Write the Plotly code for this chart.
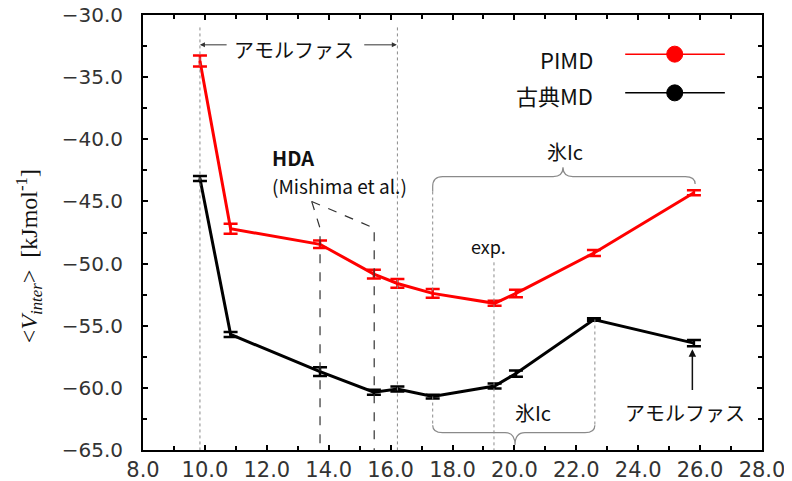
import plotly.graph_objects as go

# ---- data ----
x_vals = [9.84, 10.83, 13.72, 15.46, 16.22, 17.36, 19.36, 20.05, 22.57, 25.8]
pimd = [-33.7, -47.2, -48.45, -50.85, -51.6, -52.4, -53.2, -52.4, -49.15, -44.3]
pimd_err = [0.45, 0.4, 0.3, 0.35, 0.35, 0.35, 0.2, 0.3, 0.25, 0.2]
classical = [-43.15, -55.7, -58.7, -60.35, -60.1, -60.7, -59.85, -58.85, -54.5, -56.4]
classical_err = [0.2, 0.2, 0.35, 0.2, 0.2, 0.15, 0.2, 0.25, 0.1, 0.25]
series_names = ["PIMD", "古典MD"]

x_ticks = [8, 10, 12, 14, 16, 18, 20, 22, 24, 26, 28]
y_ticks = [-65, -60, -55, -50, -45, -40, -35, -30]

JP = "Noto Sans CJK JP"

fig = go.Figure()
fig.add_trace(go.Scatter(
    x=x_vals, y=pimd, mode="lines", name=series_names[0],
    line=dict(color="#ff0000", width=3),
    error_y=dict(type="data", array=pimd_err, color="#ff0000", thickness=2.5, width=7),
    showlegend=False))
fig.add_trace(go.Scatter(
    x=x_vals, y=classical, mode="lines", name=series_names[1],
    line=dict(color="#000000", width=3),
    error_y=dict(type="data", array=classical_err, color="#000000", thickness=2.5, width=7),
    showlegend=False))

shapes = []
gray = "#8a8a8a"
# dotted vertical guides
for xv, y0, y1 in [(9.84, -31.0, -65), (16.22, -31.0, -65), (19.34, -49.9, -65),
                   (17.36, -44.2, -52.4), (17.36, -60.7, -63.0), (22.6, -54.5, -63.0)]:
    shapes.append(dict(type="line", x0=xv, x1=xv, y0=y0, y1=y1, xref="x", yref="y",
                       line=dict(color=gray, width=1, dash="dot")))
# HDA dashed lines
shapes.append(dict(type="path", xref="x", yref="y",
                   path="M 13.45,-45.0 L 13.72,-47.15 L 13.72,-65",
                   line=dict(color="#333", width=1.2, dash="dash")))
shapes.append(dict(type="path", xref="x", yref="y",
                   path="M 13.45,-45.0 L 15.47,-47.15 L 15.47,-65",
                   line=dict(color="#333", width=1.2, dash="dash")))
# top brace
shapes.append(dict(type="path", xref="x", yref="y",
                   path="M 17.36,-44.2 L 17.36,-43.8 Q 17.36,-43.0 17.68,-43.0 L 21.25,-43.0 "
                        "Q 21.57,-43.0 21.57,-42.25 Q 21.57,-43.0 21.89,-43.0 L 25.52,-43.0 "
                        "Q 25.84,-43.0 25.84,-43.6",
                   line=dict(color=gray, width=1.2)))
# bottom brace
shapes.append(dict(type="path", xref="x", yref="y",
                   path="M 17.36,-63.0 Q 17.36,-63.6 17.68,-63.6 L 19.7,-63.6 "
                        "Q 20.02,-63.6 20.02,-64.6 Q 20.02,-63.6 20.34,-63.6 L 22.28,-63.6 "
                        "Q 22.6,-63.6 22.6,-63.0",
                   line=dict(color=gray, width=1.2)))

# legend (drawn manually)
leg = [(0.910, "#ff0000", 0.899, series_names[0]), (0.821, "#000000", 0.817, series_names[1])]
ann = []
for ly, col, ty, name in leg:
    shapes.append(dict(type="line", xref="paper", yref="paper", x0=0.779, x1=0.940, y0=ly, y1=ly,
                       line=dict(color=col, width=1.5)))
    shapes.append(dict(type="circle", xref="paper", yref="paper", xsizemode="pixel",
                       ysizemode="pixel", xanchor=0.859, yanchor=ly, x0=-8, x1=8, y0=-8, y1=8,
                       fillcolor=col, line=dict(color=col, width=1)))
    ann.append(dict(x=0.730, y=ty, xref="paper", yref="paper", text=name, showarrow=False,
                    xanchor="right", yanchor="middle", font=dict(family=JP, size=22, color="#111")))

# text annotations
ann += [
    dict(x=12.88, y=-32.8, text="アモルファス", showarrow=False,
         font=dict(family=JP, size=20, color="#111")),
    dict(x=12.1, y=-41.5, text="<b>HDA</b>", showarrow=False, xanchor="left",
         font=dict(family=JP, size=20, color="#111")),
    dict(x=12.1, y=-43.7, text="(Mishima et al.)", showarrow=False, xanchor="left",
         font=dict(family=JP, size=19, color="#111")),
    dict(x=21.63, y=-41.0, text="氷Ic", showarrow=False,
         font=dict(family=JP, size=20, color="#111")),
    dict(x=19.15, y=-48.6, text="exp.", showarrow=False,
         font=dict(family=JP, size=18, color="#111")),
    dict(x=20.6, y=-62.0, text="氷Ic", showarrow=False,
         font=dict(family=JP, size=20, color="#111")),
    dict(x=25.5, y=-62.0, text="アモルファス", showarrow=False,
         font=dict(family=JP, size=20, color="#111")),
    # arrows
    dict(x=9.84, y=-32.4, ax=10.75, ay=-32.4, xref="x", yref="y", axref="x", ayref="y",
         text="", showarrow=True, arrowhead=2, arrowsize=1, arrowwidth=1, arrowcolor="#333"),
    dict(x=16.2, y=-32.4, ax=15.1, ay=-32.4, xref="x", yref="y", axref="x", ayref="y",
         text="", showarrow=True, arrowhead=2, arrowsize=1, arrowwidth=1, arrowcolor="#333"),
    dict(x=25.75, y=-56.9, ax=25.75, ay=-60.3, xref="x", yref="y", axref="x", ayref="y",
         text="", showarrow=True, arrowhead=2, arrowsize=1, arrowwidth=1.5, arrowcolor="#111"),
    # y axis title
    dict(x=-0.183, y=0.445, xref="paper", yref="paper", textangle=-90, showarrow=False,
         xanchor="center", yanchor="middle",
         text="&lt;<i>V<sub>inter</sub></i>&gt;  [kJmol<sup>-1</sup>]",
         font=dict(family="Liberation Serif", size=24, color="#111")),
]

axis_common = dict(showline=True, linecolor="#000", linewidth=2, mirror="allticks",
                   ticks="inside", ticklen=5, tickwidth=2, tickcolor="#000",
                   showgrid=False, zeroline=False, automargin=False,
                   ticklabeloverflow="allow")
# page body adds an 8px offset; compensate in the margins
fig.update_layout(
    width=784, height=473,
    margin=dict(l=135, r=30, t=7, b=31),
    paper_bgcolor="white", plot_bgcolor="white",
    xaxis=dict(range=[8, 28], tickvals=x_ticks, tickformat=".1f",
               tickfont=dict(family="DejaVu Sans", size=21, color="#333"),
               minor=dict(dtick=1, ticks="inside", ticklen=4, tickwidth=2, tickcolor="#000"),
               **axis_common),
    yaxis=dict(range=[-65, -30], tickvals=y_ticks, tickformat=".1f", ticklabelstandoff=14,
               tickfont=dict(family="DejaVu Sans", size=20, color="#333"),
               minor=dict(dtick=2.5, tick0=-65, ticks="inside", ticklen=4, tickwidth=2, tickcolor="#000"),
               **axis_common),
    shapes=shapes, annotations=ann,
)
fig.write_html("out.html")
